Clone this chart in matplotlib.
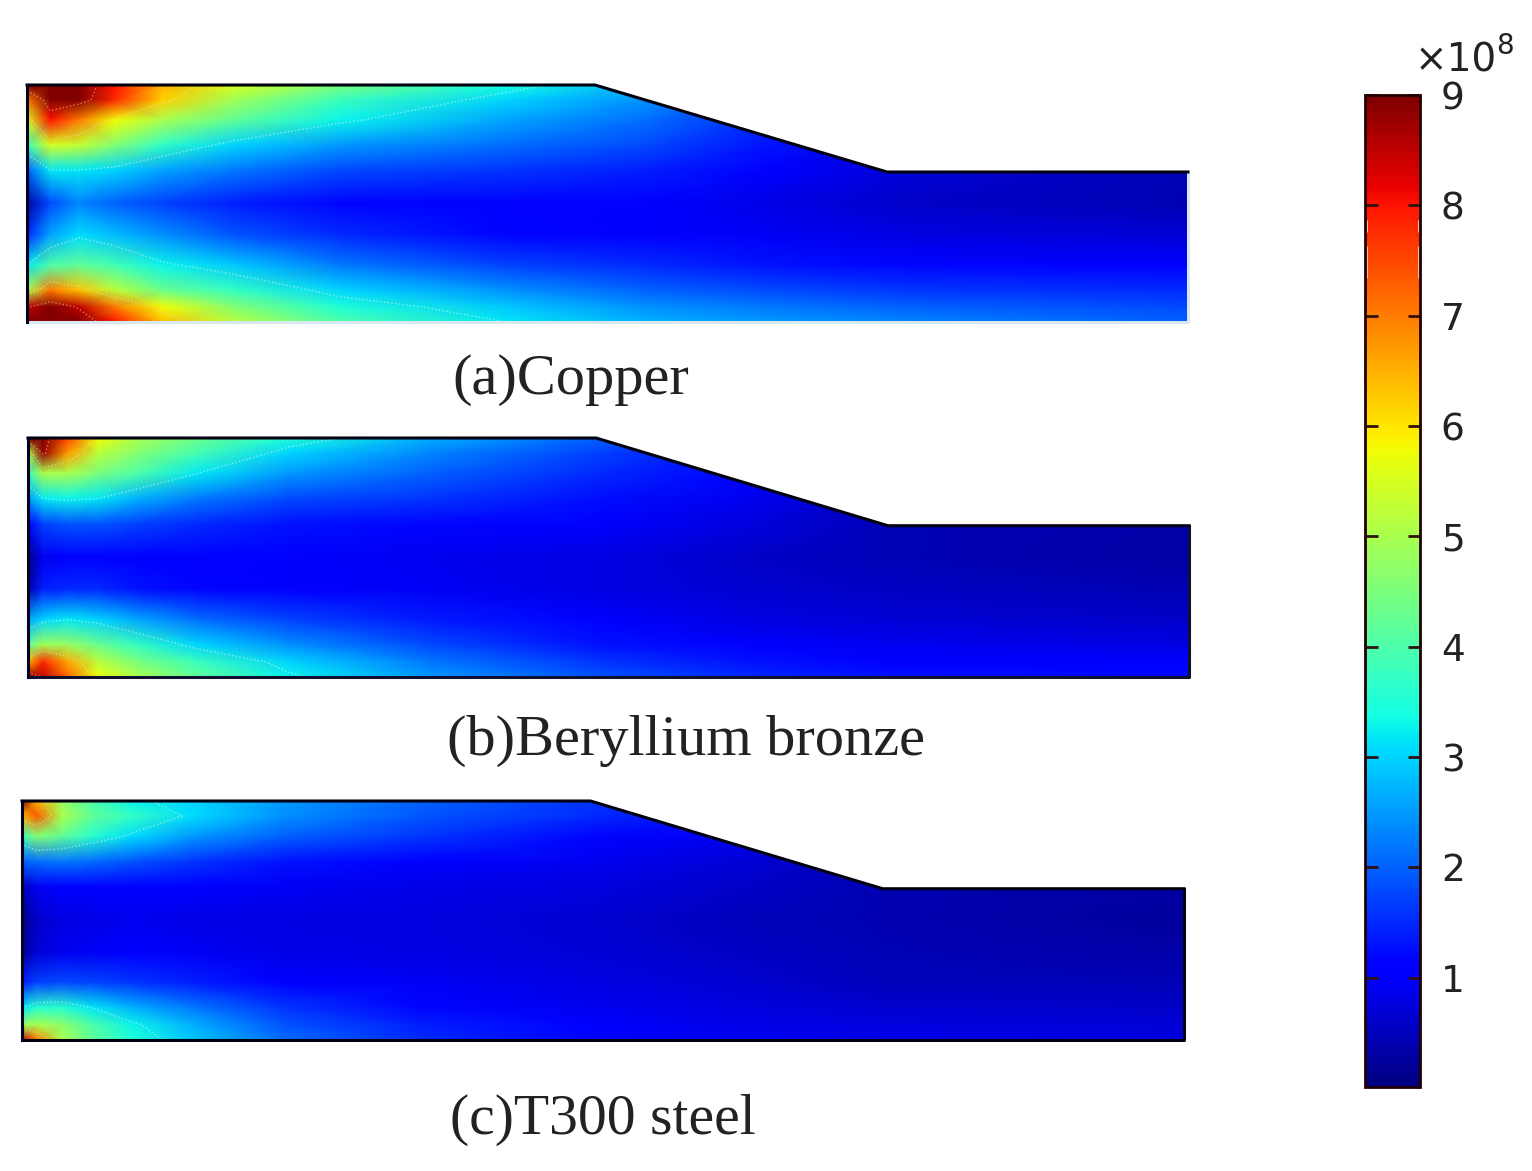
import numpy as np
import matplotlib
matplotlib.use("Agg")
import matplotlib.pyplot as plt
from matplotlib.cm import ScalarMappable
from matplotlib.colors import Normalize
from matplotlib.patches import Polygon

W, H = 1532, 1171

# stations along and across the part
x_st_copper = [0, 23, 52, 88, 135, 207, 313, 479, 620, 740, 885, 1161]
x_st = [0, 15, 40, 70, 110, 170, 260, 400, 570, 720, 860, 1161]
y_st = [0, 15, 35, 60, 85, 118, 150, 180, 205, 222, 237]

# stress, x 1e8
copper = [
    [9.5, 9.5, 9.2, 8.0, 6.5, 5.5, 4.5, 3.4, 2.7, 1.7, 0.6, 0.5],
    [7.0, 9.3, 9.0, 7.8, 6.2, 4.9, 3.8, 3.0, 2.4, 1.6, 0.6, 0.5],
    [5.5, 8.0, 7.0, 5.8, 5.0, 4.2, 3.3, 2.6, 2.1, 1.5, 0.6, 0.5],
    [3.8, 5.5, 5.3, 4.6, 3.7, 3.0, 2.5, 2.1, 1.8, 1.3, 0.7, 0.5],
    [2.0, 3.2, 3.2, 3.0, 2.6, 2.2, 1.8, 1.6, 1.4, 1.1, 0.7, 0.45],
    [0.3, 1.8, 2.3, 2.0, 1.7, 1.4, 1.2, 1.15, 1.05, 0.85, 0.6, 0.4],
    [1.5, 2.6, 3.1, 2.8, 2.4, 1.9, 1.5, 1.2, 1.1, 0.95, 0.8, 0.7],
    [3.2, 4.0, 4.2, 3.9, 3.3, 2.9, 2.2, 1.7, 1.5, 1.3, 1.2, 1.1],
    [5.0, 7.0, 6.3, 5.2, 4.3, 3.7, 3.0, 2.4, 2.0, 1.8, 1.6, 1.5],
    [8.5, 9.3, 8.5, 7.0, 5.8, 4.6, 3.5, 2.9, 2.4, 2.2, 2.0, 1.8],
    [9.5, 9.5, 9.2, 8.0, 6.4, 5.2, 4.0, 3.2, 2.7, 2.5, 2.3, 2.0],
]
bronze = [
    [9.5, 9.0, 7.5, 5.8, 5.0, 4.3, 3.5, 2.7, 2.0, 1.3, 0.5, 0.5],
    [5.0, 8.8, 6.7, 5.2, 4.6, 3.9, 3.0, 2.3, 1.7, 1.2, 0.5, 0.4],
    [3.8, 5.0, 5.0, 4.5, 4.0, 3.2, 2.5, 2.0, 1.5, 1.1, 0.5, 0.4],
    [2.5, 3.2, 3.3, 3.2, 2.7, 2.2, 1.8, 1.6, 1.25, 0.9, 0.5, 0.4],
    [1.0, 1.7, 1.9, 1.9, 1.7, 1.5, 1.3, 1.2, 1.0, 0.75, 0.45, 0.35],
    [0.1, 0.9, 1.1, 1.1, 1.1, 1.1, 1.0, 0.9, 0.8, 0.6, 0.45, 0.3],
    [0.3, 1.4, 1.5, 1.5, 1.3, 1.2, 1.1, 0.95, 0.8, 0.65, 0.55, 0.4],
    [2.6, 3.0, 3.2, 3.0, 2.6, 2.1, 1.7, 1.35, 1.0, 0.8, 0.7, 0.6],
    [4.2, 4.9, 4.8, 4.3, 3.7, 3.0, 2.4, 1.8, 1.3, 1.05, 0.9, 0.8],
    [6.5, 7.8, 6.6, 5.2, 4.5, 3.8, 3.0, 2.2, 1.6, 1.3, 1.1, 1.0],
    [9.5, 8.5, 7.2, 5.7, 5.0, 4.2, 3.3, 2.5, 1.9, 1.5, 1.3, 1.2],
]
steel = [
    [9.0, 6.5, 4.8, 4.0, 3.3, 3.0, 2.5, 2.0, 1.6, 1.0, 0.5, 0.3],
    [6.5, 7.3, 5.0, 4.2, 3.7, 3.1, 2.4, 1.9, 1.5, 1.0, 0.5, 0.3],
    [3.8, 4.6, 4.2, 3.6, 3.1, 2.5, 2.0, 1.6, 1.2, 0.9, 0.45, 0.3],
    [2.0, 2.1, 2.2, 2.1, 1.9, 1.6, 1.3, 1.1, 0.9, 0.7, 0.4, 0.3],
    [0.5, 0.9, 1.1, 1.15, 1.1, 1.05, 0.95, 0.85, 0.75, 0.6, 0.4, 0.3],
    [0.1, 0.6, 0.8, 0.85, 0.9, 0.85, 0.8, 0.75, 0.65, 0.5, 0.4, 0.25],
    [0.2, 0.7, 0.9, 0.95, 1.0, 0.95, 0.85, 0.8, 0.7, 0.55, 0.45, 0.35],
    [1.4, 1.7, 1.8, 1.75, 1.6, 1.4, 1.1, 0.95, 0.8, 0.65, 0.5, 0.45],
    [3.2, 3.6, 3.6, 3.2, 2.7, 2.2, 1.6, 1.2, 0.9, 0.75, 0.65, 0.6],
    [4.8, 5.0, 4.7, 4.0, 3.3, 2.7, 1.9, 1.4, 1.05, 0.85, 0.75, 0.7],
    [8.5, 7.0, 5.0, 4.2, 3.5, 2.9, 2.1, 1.5, 1.15, 0.95, 0.85, 0.8],
]

captions = ["(a)Copper", "(b)Beryllium bronze", "(c)T300 steel"]
cbar_ticks = [1, 2, 3, 4, 5, 6, 7, 8, 9]
vmin, vmax = 0.01, 9

outline_x = [0, 568, 860, 1161, 1161, 0, 0]
outline_y = [0, 0, 87, 87, 237, 237, 0]

# left, top, width, height, bottom/right edge colour, caption x, caption y, font size
panels = [
    (copper, x_st_copper, 27, 85, 1161, 237, "#d8e8f0", 452, 380, captions[0], 42),
    (bronze, x_st, 28, 438, 1161, 239, "#101030", 447, 741, captions[1], 42),
    (steel, x_st, 22, 801, 1162, 239, "#000010", 450, 1120, captions[2], 41.5),
]


def px_axes(left, top, w, h):
    return fig.add_axes([left / W, 1 - (top + h) / H, w / W, h / H])


fig = plt.figure(figsize=(W / 100, H / 100), dpi=100)
norm = Normalize(vmin, vmax)

for vals, xs, left, top, w, h, edge, cap_x, cap_y, cap, cap_size in panels:
    ax = px_axes(left, top, w, h)
    ax.set_xlim(0, 1161)
    ax.set_ylim(237, 0)
    ax.axis("off")
    clip = Polygon(np.column_stack([outline_x, outline_y]), closed=True,
                   transform=ax.transData, fc="none", ec="none")
    ax.add_patch(clip)
    mesh = ax.pcolormesh(xs, y_st, np.array(vals), cmap="jet", norm=norm,
                         shading="gouraud", rasterized=True)
    mesh.set_clip_path(clip)
    cs = ax.contour(xs, y_st, np.array(vals), levels=[3.2, 6.0, 8.6],
                    colors=["#c8fff0", "#ffe0a0", "#ffb0a0"],
                    linewidths=1.0, linestyles=":", alpha=0.6)
    cs.set_clip_path(clip)
    # bottom and right edge are paler than the top line in the scan
    ax.plot(outline_x[3:6], outline_y[3:6], color=edge, lw=2.2, clip_on=False)
    ax.plot(outline_x[:4], outline_y[:4], color="#000010", lw=2.2, clip_on=False)
    ax.plot(outline_x[5:7], outline_y[5:7], color="#000020", lw=2.2, clip_on=False)
    fig.text(cap_x / W, 1 - cap_y / H, cap, family="Liberation Serif", fontsize=cap_size,
             color="#222222", ha="left", va="center")

cax = px_axes(1365, 95, 55, 992)
cbar = fig.colorbar(ScalarMappable(norm=norm, cmap="jet"), cax=cax, ticks=cbar_ticks)
cbar.outline.set_edgecolor("#200000")
cbar.outline.set_linewidth(2)
cax.tick_params(axis="y", direction="in", left=True, right=True, length=9, width=2,
                color="#301010", labelsize=27, pad=15, labelcolor="#222222")
cax.vlines([0.02, 0.98], [7.34, 7.34], [7.63, 7.63], color="#ffc8c0", lw=2)
cax.vlines([0.02, 0.98], [7.76, 7.76], [7.87, 7.87], color="#ffc8c0", lw=2)

fig.text(1415 / W, 1 - 60 / H, "×10", fontsize=28, color="#222222", ha="left", va="center")
fig.text(1496 / W, 1 - 46 / H, "8", fontsize=20, color="#222222", ha="left", va="center")

fig.savefig("out.png", dpi=100, facecolor="white")
